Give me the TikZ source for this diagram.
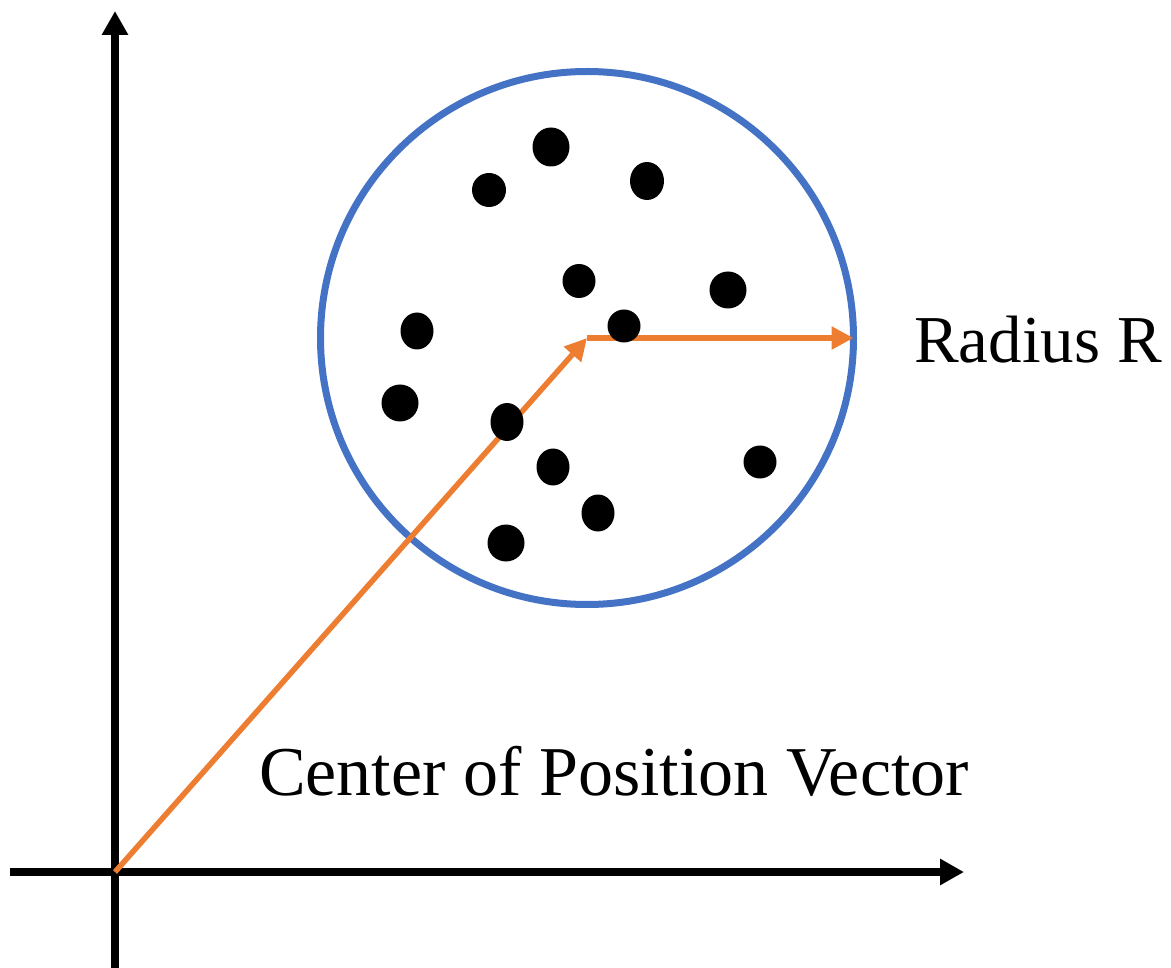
\documentclass[tikz,border=0pt]{standalone}
\usepackage{fontspec}
\setmainfont{Liberation Serif}
\usetikzlibrary{arrows.meta,shapes.geometric}
\definecolor{cblue}{HTML}{4472C4}
\definecolor{corange}{HTML}{ED7D31}
\begin{document}
\begin{tikzpicture}[x=1pt,y=-1pt,
  axis/.style={line width=8pt,-{Triangle[length=24pt,width=25pt]}},
  vec/.style={line width=5.5pt,corange,-{Triangle[length=22pt,width=22pt]}},
  dot/.style={ellipse,fill=black,inner sep=0pt,outer sep=0pt},
  bigcircle/.style={circle,draw=cblue,line width=7pt,minimum size=533pt,inner sep=0pt,outer sep=0pt},
  lbl/.style={inner sep=0pt}]
\useasboundingbox (0,0) rectangle (1171,968);
% axes
\coordinate (O) at (115,872);
\coordinate (ybot) at (115,968);
\coordinate (ytop) at (115,11);
\coordinate (xleft) at (10,872);
\coordinate (xright) at (964,872);
\draw[axis] (ybot) -- (ytop);
\draw[axis] (xleft) -- (xright);
% circle
\node[bigcircle] (C) at (587,338) {};
\coordinate (ctr) at (587,338);
% vectors
\draw[vec] (O) -- (ctr);
\draw[vec] (ctr) -- (C.east);
% dots
\node[dot,minimum width=37pt,minimum height=39pt] (d1) at (551,147) {};
\node[dot,minimum width=34pt,minimum height=34pt] (d2) at (489,190) {};
\node[dot,minimum width=34pt,minimum height=38pt] (d3) at (647,181) {};
\node[dot,minimum width=33pt,minimum height=34pt] (d4) at (579,281) {};
\node[dot,minimum width=37pt,minimum height=37pt] (d5) at (728,290) {};
\node[dot,minimum width=33pt,minimum height=33pt] (d6) at (624,326) {};
\node[dot,minimum width=33pt,minimum height=37pt] (d7) at (417,331) {};
\node[dot,minimum width=37pt,minimum height=37pt] (d8) at (400,403) {};
\node[dot,minimum width=33pt,minimum height=38pt] (d9) at (507,422) {};
\node[dot,minimum width=33pt,minimum height=37pt] (d10) at (553,467) {};
\node[dot,minimum width=33pt,minimum height=33pt] (d11) at (760,462) {};
\node[dot,minimum width=33pt,minimum height=37pt] (d12) at (598,513) {};
\node[dot,minimum width=37pt,minimum height=37pt] (d13) at (506,543) {};
% labels
\node[lbl,font=\fontsize{67}{80}\selectfont,anchor=base west] (rad) at (914,363) {Radius R};
\node[lbl,font=\fontsize{70}{84}\selectfont,anchor=base] (cpv) at (614,795) {Center of Position Vector};
\end{tikzpicture}
\end{document}
